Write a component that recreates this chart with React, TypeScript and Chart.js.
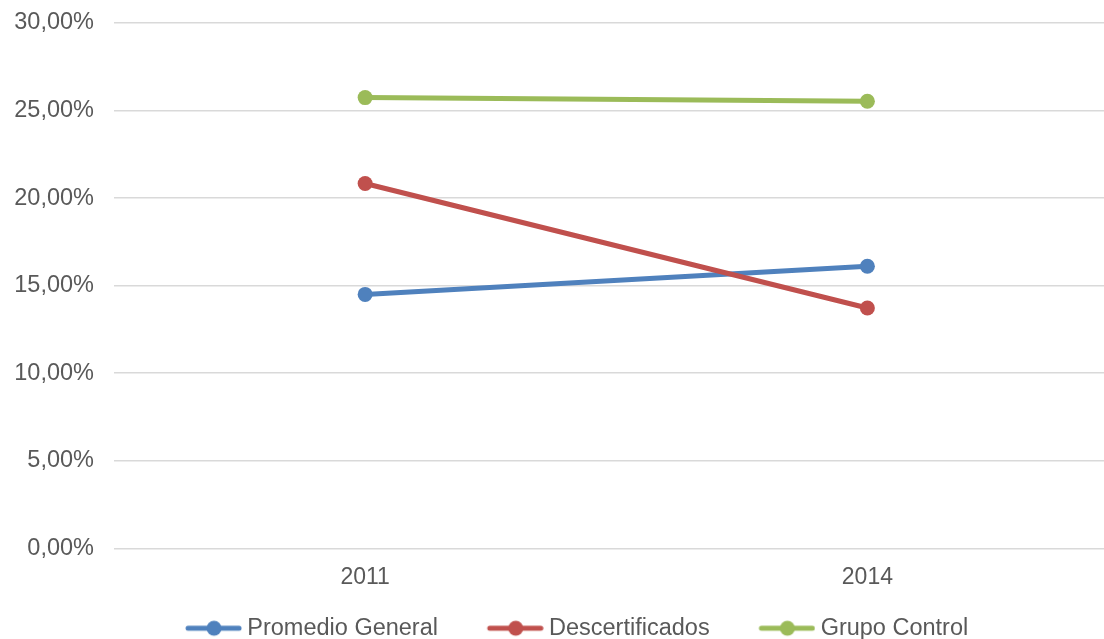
import React, { useEffect, useRef } from "react";
import { Chart, registerables } from "chart.js";

Chart.register(...registerables);

const categories = ["2011", "2014"];
const promedioGeneral = [14.5, 16.11];
const descertificados = [20.83, 13.72];
const grupoControl = [25.74, 25.53];
const seriesNames = ["Promedio General", "Descertificados", "Grupo Control"];
const seriesColors = ["#4f81bd", "#c0504d", "#9bbb59"];
const yTicksMin = 0;
const yTicksMax = 30;
const yTicksStep = 5;

const FONT = "'Liberation Sans', Arial, sans-serif";
const TEXT_COLOR = "#595959";

function makeLegendIcon(color: string): HTMLCanvasElement {
  const T = 102;
  const c = document.createElement("canvas");
  c.width = T;
  c.height = 18;
  const ctx = c.getContext("2d")!;
  ctx.strokeStyle = color;
  ctx.lineWidth = 5;
  ctx.lineCap = "round";
  ctx.beginPath();
  ctx.moveTo(T - 54, 9);
  ctx.lineTo(T - 3, 9);
  ctx.stroke();
  ctx.fillStyle = color;
  ctx.beginPath();
  ctx.arc(T - 28, 9, 7.5, 0, Math.PI * 2);
  ctx.fill();
  return c;
}

export default function App() {
  const ref = useRef<HTMLCanvasElement | null>(null);

  useEffect(() => {
    if (!ref.current) return;
    const icons = seriesColors.map(makeLegendIcon);
    const seriesData = [promedioGeneral, descertificados, grupoControl];
    const chart = new Chart(ref.current, {
      type: "line",
      data: {
        labels: categories,
        datasets: seriesData.map((d, i) => ({
          label: seriesNames[i],
          data: d,
          borderColor: seriesColors[i],
          backgroundColor: seriesColors[i],
          borderWidth: 5,
          borderCapStyle: "round",
          borderJoinStyle: "round",
          pointRadius: 7.5,
          pointBorderWidth: 0,
          pointBackgroundColor: seriesColors[i],
          pointHoverRadius: 7.5,
          order: 3 - i,
          tension: 0,
        })),
      },
      options: {
        animation: false,
        responsive: false,
        devicePixelRatio: 1,
        layout: { padding: { left: 8.75, right: 0, top: 23, bottom: 0 } },
        scales: {
          x: {
            offset: true,
            grid: { display: false, drawTicks: false },
            border: { display: false },
            ticks: {
              padding: 15.2,
              color: TEXT_COLOR,
              font: { family: FONT, size: 23 },
            },
          },
          y: {
            min: yTicksMin,
            max: yTicksMax,
            grid: { color: "#d9d9d9", lineWidth: 1.5, drawTicks: false },
            border: { display: false },
            ticks: {
              stepSize: yTicksStep,
              padding: 20,
              color: TEXT_COLOR,
              font: { family: FONT, size: 23.5, lineHeight: 0.2 },
              callback: (v: any) => Number(v).toFixed(2).replace(".", ",") + "%",
            },
            afterFit: (scale: any) => {
              scale.width = 125.25;
            },
          },
        },
        plugins: {
          tooltip: { enabled: false },
          legend: {
            position: "bottom",
            labels: {
              usePointStyle: true,
              pointStyleWidth: 89,
              padding: 10.25,
              color: TEXT_COLOR,
              font: { family: FONT, size: 23.5 },
              generateLabels: (ch: any) =>
                ch.data.datasets.map((ds: any, i: number) => ({
                  text: ds.label,
                  fillStyle: seriesColors[i],
                  strokeStyle: seriesColors[i],
                  lineWidth: 0,
                  hidden: false,
                  datasetIndex: i,
                  pointStyle: icons[i],
                  fontColor: TEXT_COLOR,
                })),
            },
          },
        },
      },
    } as any);
    return () => chart.destroy();
  }, []);

  return (
    <div
      style={{
        position: "fixed",
        left: 0,
        top: 0,
        width: 1104,
        height: 639,
        overflow: "hidden",
        background: "#ffffff",
      }}
    >
      <canvas
        ref={ref}
        width={1146}
        height={650}
        style={{ display: "block", marginLeft: -20 }}
      />
    </div>
  );
}
